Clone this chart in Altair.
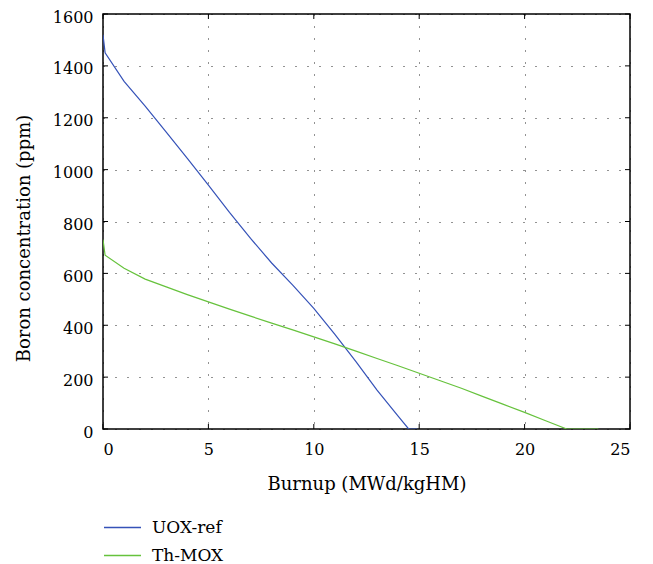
import altair as alt
import pandas as pd

uox_x = [0, 0.1, 1, 2, 3, 4, 5, 6, 7, 8, 9, 10, 11, 12, 13, 14, 14.5, 14.9]
uox_y = [1520, 1450, 1340, 1245, 1145, 1043, 940, 835, 735, 640, 555, 465, 365, 260, 150, 50, 0, 0]
mox_x = [0, 0.1, 1, 2, 3, 4, 5, 6, 7, 8, 9, 10, 11, 12, 13, 14, 15, 16, 17, 18, 19, 20, 21, 22, 23.5]
mox_y = [730, 670, 620, 578, 548, 518, 490, 462, 435, 408, 382, 355, 328, 300, 272, 244, 215, 186, 157, 126, 95, 64, 32, 0, 0]
series = ["UOX-ref", "Th-MOX"]
colors = ["#3552b8", "#66c23c"]

df = pd.concat([
    pd.DataFrame({"x": uox_x, "y": uox_y, "s": series[0], "o": range(len(uox_x))}),
    pd.DataFrame({"x": mox_x, "y": mox_y, "s": series[1], "o": range(len(mox_x))}),
])

FONT = "DejaVu Serif"
W, H = 527, 415
PL, PT, PR = 95, 6, 15
PB = 556 - H - PT

lines = alt.Chart(df).mark_line(strokeWidth=1.2, clip=True).encode(
    x=alt.X("x:Q", scale=alt.Scale(domain=[0, 25], nice=False),
            axis=alt.Axis(values=[0, 5, 10, 15, 20, 25], title="Burnup (MWd/kgHM)", format="d",
                          labelFont=FONT, titleFont=FONT,
                          grid=True, gridDash=[1, 11], gridColor="#000", gridOpacity=0.85,
                          tickSize=0, labelPadding=12, titlePadding=18)),
    y=alt.Y("y:Q", scale=alt.Scale(domain=[0, 1600], nice=False),
            axis=alt.Axis(values=list(range(0, 1601, 200)), title="Boron concentration (ppm)",
                          format="d", labelFont=FONT, titleFont=FONT, labelOffset=3,
                          grid=True, gridDash=[1, 11], gridColor="#000", gridOpacity=0.85,
                          tickSize=0, labelPadding=10, titlePadding=19, titleY=224)),
    color=alt.Color("s:N", scale=alt.Scale(domain=series, range=colors),
                    legend=alt.Legend(title=None, orient="none", legendX=0, legendY=H + 79,
                                      direction="vertical", symbolType="stroke",
                                      symbolSize=1369, symbolStrokeWidth=1.3,
                                      labelFontSize=17, labelFont=FONT, labelColor="#000",
                                      labelOffset=10, rowPadding=0)),
    order="o:Q",
)

xt = pd.DataFrame({"v": [0, 5, 10, 15, 20, 25]})
yt = pd.DataFrame({"v": list(range(0, 1601, 200))})
xs = alt.Scale(domain=[0, 25], nice=False)
ys = alt.Scale(domain=[0, 1600], nice=False)
T = 5
tb = alt.Chart(xt).mark_rule(color="#000", strokeWidth=1).encode(
    x=alt.X("v:Q", scale=xs), y=alt.value(H), y2=alt.value(H - T))
tt = alt.Chart(xt).mark_rule(color="#000", strokeWidth=1).encode(
    x=alt.X("v:Q", scale=xs), y=alt.value(0), y2=alt.value(T))
tl = alt.Chart(yt).mark_rule(color="#000", strokeWidth=1).encode(
    y=alt.Y("v:Q", scale=ys), x=alt.value(0), x2=alt.value(T))
tr = alt.Chart(yt).mark_rule(color="#000", strokeWidth=1).encode(
    y=alt.Y("v:Q", scale=ys), x=alt.value(W), x2=alt.value(W - T))

chart = alt.layer(lines, tb, tt, tl, tr).properties(
    width=W, height=H,
    autosize=alt.AutoSizeParams(type="none"),
    padding={"left": PL, "top": PT, "right": PR, "bottom": PB},
).configure(font=FONT).configure_view(stroke="#000", strokeWidth=1.5).configure_axis(
    labelFontSize=16, titleFontSize=18,
    labelColor="#000", titleColor="#000", titleFontWeight="normal",
    domain=False,
)

chart.save("out.html", embed_options={"renderer": "svg", "actions": False})
